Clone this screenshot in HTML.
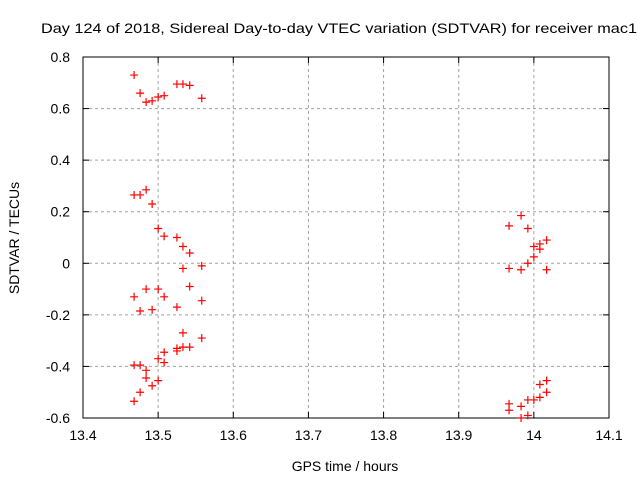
<!DOCTYPE html>
<html><head><meta charset="utf-8"><style>
body{margin:0;background:#fff}
svg{display:block;font-family:"Liberation Sans",sans-serif}
</style></head><body>
<svg id="chart" width="640" height="480">
<text x="41" y="33" font-size="14" textLength="596" lengthAdjust="spacingAndGlyphs">Day 124 of 2018, Sidereal Day-to-day VTEC variation (SDTVAR) for receiver mac1</text>
<text x="345" y="471" font-size="14" text-anchor="middle">GPS time / hours</text>
<text transform="translate(19,238) rotate(-90)" font-size="14" text-anchor="middle">SDTVAR / TECUs</text>
<g id="grid"></g><g id="axes"></g><g id="marks"></g>
</svg>
<script>
const xTicks=[13.4,13.5,13.6,13.7,13.8,13.9,14,14.1];
const xTickLabels=["13.4","13.5","13.6","13.7","13.8","13.9","14","14.1"];
const yTicks=[-0.6,-0.4,-0.2,0,0.2,0.4,0.6,0.8];
const yTickLabels=["-0.6","-0.4","-0.2","0","0.2","0.4","0.6","0.8"];
const times=[13.468,13.476,13.484,13.492,13.500,13.508,13.525,13.533,13.542,13.558,13.967,13.983,13.992,14.000,14.008,14.017];
const values=[
[0.73,0.265,-0.13,-0.395,-0.535],
[0.66,0.265,-0.185,-0.395,-0.5],
[0.625,0.285,-0.1,-0.415,-0.445],
[0.63,0.23,-0.18,-0.475],
[0.645,0.135,-0.1,-0.37,-0.455],
[0.65,0.105,-0.13,-0.345,-0.385],
[0.695,0.1,-0.17,-0.34,-0.33],
[0.695,0.065,-0.02,-0.27,-0.325],
[0.69,0.04,-0.09,-0.325],
[0.64,-0.01,-0.145,-0.29],
[0.145,-0.02,-0.545,-0.57],
[0.185,-0.025,-0.555,-0.6],
[0.135,0.0,-0.53,-0.59],
[0.065,0.025,-0.53],
[0.075,0.055,-0.47,-0.52],
[0.09,-0.025,-0.455,-0.5]
];
const X0=83,X1=609,Y0=418,Y1=57;
const xs=v=>X0+(v-13.4)/0.7*(X1-X0);
const ys=v=>Y0-(v+0.6)/1.4*(Y0-Y1);
const NS="http://www.w3.org/2000/svg";
function mk(tag,parent,attrs){const e=document.createElementNS(NS,tag);for(const k in attrs)e.setAttribute(k,attrs[k]);parent.appendChild(e);return e;}
const grid=document.getElementById('grid'),axes=document.getElementById('axes'),marks=document.getElementById('marks');
xTicks.forEach((t,i)=>{const x=xs(t);
 if(i>0&&i<xTicks.length-1){const g=mk('line',grid,{x1:x,x2:x,y1:Y1,y2:Y0,stroke:'#a0a0a0','stroke-dasharray':'3,3'});
 
 }
 const tk=mk('line',axes,{x1:x,x2:x,y1:Y0,y2:Y0-6,stroke:'#000'});
 
 
 const tk2=mk('line',axes,{x1:x,x2:x,y1:Y1,y2:Y1+6,stroke:'#000'});
 
 
 const l=mk('text',axes,{x:x,y:Y0+22,'font-size':14,'text-anchor':'middle'});l.textContent=xTickLabels[i];
 
 
});
yTicks.forEach((t,i)=>{const y=ys(t);
 if(i>0&&i<yTicks.length-1){const g=mk('line',grid,{x1:X0,x2:X1,y1:y,y2:y,stroke:'#a0a0a0','stroke-dasharray':'3,3'});
 
 }
 const tk=mk('line',axes,{x1:X0,x2:X0+6,y1:y,y2:y,stroke:'#000'});
 
 
 const tk2=mk('line',axes,{x1:X1,x2:X1-6,y1:y,y2:y,stroke:'#000'});
 
 
 const l=mk('text',axes,{x:X0-13,y:y+5,'font-size':14,'text-anchor':'end'});l.textContent=yTickLabels[i];
 
 
});
const fr=mk('rect',axes,{x:X0,y:Y1,width:X1-X0,height:Y0-Y1,fill:'none',stroke:'#000'});


times.forEach((t,i)=>{values[i].forEach(v=>{const x=xs(t),y=ys(v);
 const p=mk('path',marks,{d:`M${x-4},${y}H${x+4}M${x},${y-4}V${y+4}`,stroke:'#ff0000','stroke-width':1.2});
 
 
});});
</script>
</body></html>
